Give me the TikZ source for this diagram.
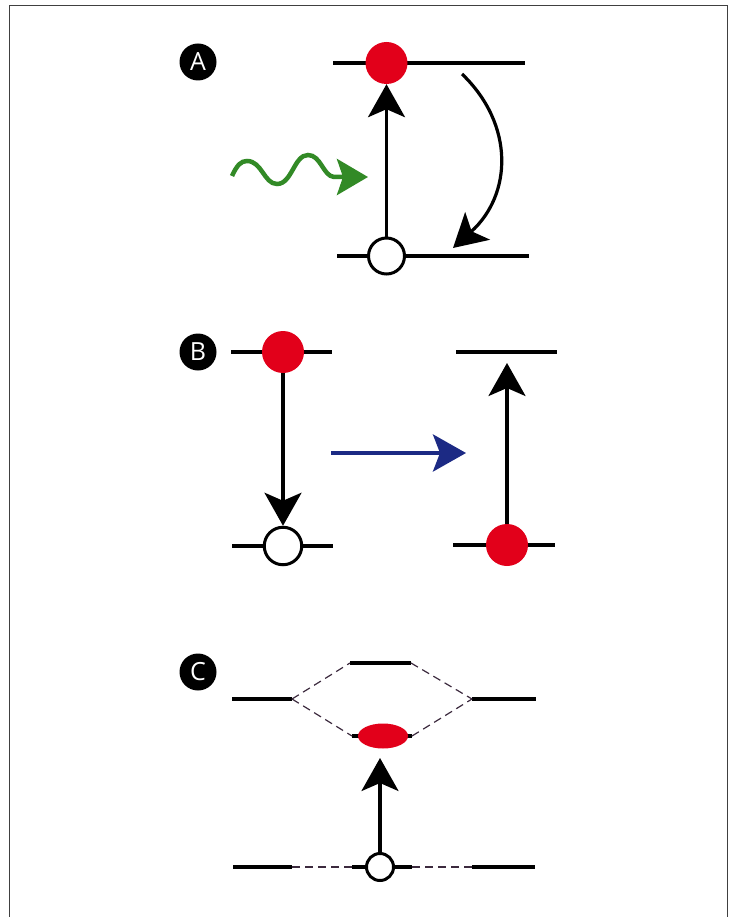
\documentclass[tikz,border=0pt]{standalone}
\usepackage{fontspec}
\newfontfamily\labelfont{Open Sans}
\usetikzlibrary{arrows.meta,shapes.geometric}
\definecolor{dotred}{RGB}{226,0,26}
\definecolor{wavegreen}{RGB}{50,138,38}
\definecolor{navyblue}{RGB}{28,42,132}
\definecolor{tiegray}{RGB}{60,42,62}
\begin{document}
\begin{tikzpicture}[x=1pt,y=-1pt,
  level/.style={line width=3.5pt},
  clevel/.style={line width=4pt},
  tie/.style={tiegray,line width=1.2pt,dash pattern=on 8pt off 5pt},
  reddot/.style={circle,fill=dotred,minimum size=42pt,inner sep=0pt},
  redoval/.style={ellipse,fill=dotred,minimum width=50pt,minimum height=25pt,inner sep=0pt},
  hole/.style={circle,draw=black,fill=white,line width=3pt,minimum size=36pt,inner sep=0pt},
  tag/.style={circle,fill=black,minimum size=37pt,inner sep=0pt,text=white,
    font=\labelfont\fontsize{25}{25}\selectfont},
  jump/.style={line width=3.2pt,-{Stealth[length=33pt,width=37pt,inset=8pt]}},
  photon/.style={wavegreen,line width=4.5pt,-{Stealth[length=31pt,width=36pt,inset=6pt]}},
  transfer/.style={navyblue,line width=4pt,-{Stealth[length=33pt,width=37pt,inset=7pt]}},
  frameline/.style={line width=1pt,black!75}]
\useasboundingbox (0,0) rectangle (733,917);
% frame
\draw[frameline] (9,920) -- (9,6) -- (727,6) -- (727,920);

% ---------- Panel A ----------
\node[tag] (tA) at (198,62) {A};
\draw[level] (333,63) -- (525,63);
\draw[level] (337,256) -- (529,256);
\node[hole] (a0) at (386.5,256) {};
\node[reddot] (a1) at (386.5,63) {};
\draw[jump] (a0) -- (a1);
\coordinate (d0) at (462,74);
\coordinate (d1) at (453,248);
\draw[jump] (d0) .. controls (515,125) and (512,195) .. (d1);
\coordinate (w0) at (232,176);
\coordinate (w1) at (368,177);
\draw[photon] (w0) .. controls (237,165) and (241,161) .. (247,161)
  .. controls (262,161) and (264,184) .. (277,184)
  .. controls (292,184) and (294,155) .. (308,155)
  .. controls (321,155) and (323,176) .. (334,177) -- (w1);

% ---------- Panel B ----------
\node[tag] (tB) at (198,352) {B};
\draw[level] (231,352) -- (332,352);
\draw[level] (232,546) -- (333,546);
\draw[level] (456,352) -- (557,352);
\draw[level] (453,545) -- (555,545);
\node[reddot] (b1) at (283,352) {};
\node[hole,minimum size=37.5pt] (b0) at (283,546) {};
\draw[jump] (b1) -- (b0);
\node[reddot] (b2) at (507,545) {};
\coordinate (b3) at (507,363);
\draw[jump] (b2) -- (b3);
\coordinate (t0) at (331,453);
\coordinate (t1) at (466,453);
\draw[transfer] (t0) -- (t1);

% ---------- Panel C ----------
\node[tag] (tC) at (198,672) {C};
\draw[clevel] (232,699) -- (292,699);
\draw[clevel] (472,699) -- (536,699);
\draw[clevel] (350,663) -- (411,663);
\draw[clevel] (352,736) -- (412,736);
\draw[tie] (292,699) -- (350,663);
\draw[tie] (411,663) -- (472,699);
\draw[tie] (292,699) -- (352,736);
\draw[tie] (412,736) -- (472,699);
\node[redoval] (ce) at (383,736) {};
\draw[clevel] (233,867) -- (292,867);
\draw[clevel] (352,867) -- (412,867);
\draw[clevel] (472,867) -- (535,867);
\draw[tie] (292,867) -- (352,867);
\draw[tie] (412,867) -- (472,867);
\node[hole,minimum size=27pt] (c0) at (380,867) {};
\coordinate (ctip) at (380,758);
\draw[jump] (c0) -- (ctip);
\end{tikzpicture}
\end{document}
